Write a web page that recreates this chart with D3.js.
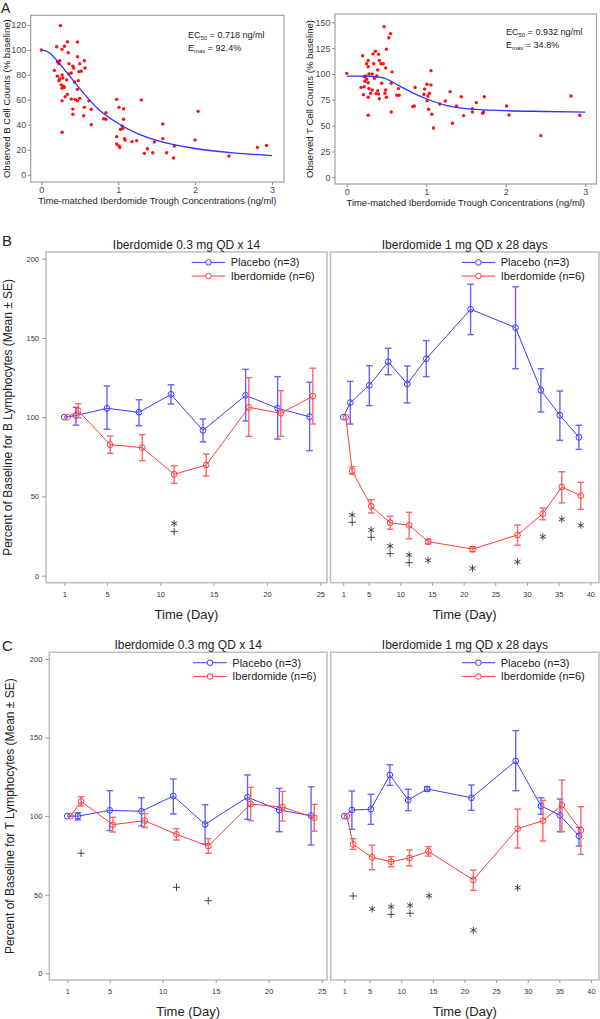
<!DOCTYPE html>
<html lang="en">
<head>
<meta charset="UTF-8" />
<title>Iberdomide B and T lymphocytes</title>
<script src="https://cdn.jsdelivr.net/npm/d3@7"></script>
<style>
  body { margin: 0; background: #fff; }
  text { font-family: "Liberation Sans", Arial, sans-serif; fill: #222; }
  .frameA { fill: none; stroke: #a0a0a0; stroke-width: 1.2px; }
  .axisA text { fill: #4d4d4d; font-size: 9px; }
  .axisA line { stroke: #888; }
  .frame { fill: none; stroke: #bdbdbd; stroke-width: 1.5px; }
  .axisT text { font-size: 7.5px; fill: #333; }
  .axisT line { stroke: #999; }
  .fit { fill: none; stroke: #3030ff; stroke-width: 1.3px; }
  .dot { fill: #ff1010; }
  .sym { fill: none; stroke: #333; stroke-width: 0.9px; }
</style>
</head>
<body>
<script>

// ---------- Panel A: scatter + fitted curve ----------
var bConc = [0, 0.25, 0.17, 0.2, 0.21, 0.34, 0.47, 0.30, 0.27, 0.35,
             0.24, 0.23, 0.47, 0.56, 0.36, 0.41, 0.42, 0.57, 0.50, 0.49,
             0.52, 0.21, 0.27, 0.28, 0.24, 0.23, 0.33, 0.39, 0.36, 0.43,
             0.48, 0.26, 0.29, 0.27, 0.30, 0.47, 0.31, 0.34, 0.39, 0.44,
             0.27, 0.47, 0.50, 0.62, 0.41, 0.41, 0.56, 0.65, 0.55, 0.65,
             0.27, 0.84, 0.81, 0.84, 0.98, 1.01, 1.07, 1.07, 1.30, 1.05,
             1.03, 1.06, 0.98, 1.08, 1.09, 0.98, 1.01, 1.02, 1.18, 1.24,
             1.34, 1.38, 1.45, 1.47, 1.58, 1.58, 1.63, 1.73, 1.72, 2.00,
             2.04, 2.44, 2.81, 2.93];
var bPct  = [100, 119.5, 83.6, 102.6, 90.6, 106.6, 106.4, 103, 100.5, 97.8,
             91.4, 89, 94.6, 91.4, 89, 87, 85.5, 85.5, 89, 82.6,
             83, 79, 80, 77.5, 76.7, 75.4, 76, 81.5, 80.7, 74.3,
             75.4, 72, 71, 69.2, 70, 68.4, 62.5, 64.4, 60.7, 60.4,
             59.3, 59.3, 61.2, 59.3, 52.6, 48.4, 54, 52.4, 47.3, 40,
             34, 49.7, 44.9, 44.4, 60.4, 54, 52.9, 44.4, 59.9, 39,
             36.3, 37.1, 30.5, 28.9, 27.8, 24.6, 23, 21.9, 26.5, 27.3,
             17.1, 20.8, 17.6, 26.2, 40.6, 28.9, 17.6, 23, 13.4, 27.8,
             50.8, 15, 21.9, 23.5];
var bFitConc = [0, 0.1, 0.25, 0.5, 0.75, 1, 1.25, 1.5, 2, 2.5, 3];
var bFitPct  = [100, 98, 88, 69, 52, 41, 33, 27.5, 21, 17.5, 15.3];

var tConc = [0, 0.47, 0.55, 0.53, 0.20, 0.27, 0.25, 0.36, 0.33, 0.40,
             0.50, 0.41, 0.46, 0.43, 0.49, 0.39, 0.34, 0.27, 0.28, 0.32,
             0.24, 0.22, 0.25, 0.23, 0.27, 0.35, 0.38, 0.57, 0.44, 0.56,
             0.18, 0.22, 0.28, 0.32, 0.39, 0.30, 0.37, 0.40, 0.48, 0.49,
             0.21, 0.27, 0.41, 0.50, 0.65, 0.63, 0.66, 0.56, 0.27, 0.86,
             0.83, 0.85, 0.98, 1.01, 1.06, 1.06, 0.97, 1.02, 1.04, 1.01,
             1.03, 1.07, 1.09, 1.17, 1.24, 1.30, 1.38, 1.33, 1.44, 1.47,
             1.58, 1.58, 1.63, 1.71, 1.72, 1.73, 2.01, 2.04, 2.44, 2.82,
             2.93];
var tPct  = [100.6, 145.8, 139, 135, 117.7, 113, 110, 122, 119.4, 119,
             124, 113, 110, 110, 105.8, 103.9, 110, 107, 100, 100,
             98, 97.4, 95, 93, 91.6, 95.8, 98, 102, 91, 91,
             87, 87.7, 86, 84.5, 83.9, 81.3, 81, 80.6, 81.3, 84.5,
             80, 77.4, 76, 77.4, 85.8, 79.4, 79.4, 63.2, 60, 87,
             68.4, 69, 85.5, 90, 103.2, 89.4, 80.3, 78.7, 81.3, 74.2,
             65.8, 61, 47.7, 71, 73.9, 82.9, 69, 52.3, 78, 59.7,
             66.5, 63.2, 72.3, 62, 63.2, 78, 69, 60.3, 40.3, 78.7,
             60];
var tFitConc = [0, 0.25, 0.45, 0.65, 0.85, 1.0, 1.25, 1.5, 2, 2.5, 3];
var tFitPct  = [98, 98, 96.5, 89, 81, 76, 69.5, 66.5, 64.5, 63.7, 63];

// ---------- Panel B: B lymphocytes ----------
var bLowPlaceboDay  = [1, 2.1, 5, 8, 11, 14, 18, 21, 24];
var bLowPlaceboMean = [100, 101, 105.6, 103.1, 114.4, 91.7, 113.8, 105.6, 100.3];
var bLowPlaceboHi   = [null, 106.2, 119.7, 111, 120.5, 98.9, 130.2, 125.6, 122];
var bLowPlaceboLo   = [null, 95, 92.4, 94.6, 108.3, 84.4, 97.6, 86.2, 78.9];
var bLowIberDay  = [1.3, 2.3, 5.3, 8.3, 11.3, 14.3, 18.3, 21.3, 24.3];
var bLowIberMean = [100, 104.1, 82.7, 80.8, 64, 69.8, 106.2, 102.5, 113.2];
var bLowIberHi   = [null, 108.5, 88.1, 89, 69.4, 76.8, 124.9, 116.7, 130.9];
var bLowIberLo   = [null, 99.7, 77.2, 72.6, 58.3, 62.9, 87.9, 87.9, 95.7];
var bLowStarDay = [11.3], bLowStarVal = [33];
var bLowPlusDay = [11.3], bLowPlusVal = [27.8];

var bHighPlaceboDay  = [1, 2.1, 5.1, 8.1, 11.1, 14.1, 21.1, 28.2, 32.2, 35.2, 38.2];
var bHighPlaceboMean = [100, 109.2, 120.1, 135, 121, 136.9, 168.1, 156.5, 117, 101.2, 87.3];
var bHighPlaceboHi   = [null, 122.6, 132.5, 143.5, 132.3, 148.3, 183.9, 182.3, 130.6, 116.5, 94.9];
var bHighPlaceboLo   = [null, 95.7, 107.3, 126.8, 109, 125.6, 152.1, 130.6, 103.3, 85.4, 79.7];
var bHighIberDay  = [1.4, 2.4, 5.4, 8.4, 11.4, 14.4, 21.4, 28.5, 32.5, 35.5, 38.5];
var bHighIberMean = [100, 66.1, 43.8, 33.4, 31.8, 21.5, 16.8, 25.7, 39.1, 56, 50.5];
var bHighIberHi   = [null, 68.8, 48, 37.5, 40, 23, 18.3, 32, 42.7, 65.6, 58.9];
var bHighIberLo   = [null, 64, 39.6, 29.3, 23.3, 20, 15.1, 19.2, 35.3, 45.9, 41.9];
var bHighStarDay = [2.4, 5.4, 8.4, 11.4, 14.4, 21.4, 28.5, 32.5, 35.5, 38.5];
var bHighStarVal = [38.3, 28.8, 18.7, 13.1, 9.7, 4.7, 8.8, 24.6, 35.6, 31.8];
var bHighPlusDay = [2.4, 5.4, 8.4, 11.4];
var bHighPlusVal = [33.7, 24.2, 13.9, 8.2];

// ---------- Panel C: T lymphocytes ----------
var tLowPlaceboDay  = [1, 2, 5, 8, 11, 14, 18, 21, 24];
var tLowPlaceboMean = [100, 100, 103.7, 103.1, 112.8, 94.8, 112, 103.9, 100.3];
var tLowPlaceboHi   = [null, 102.2, 116.2, 111.7, 123.6, 107.3, 126.2, 117.7, 118.7];
var tLowPlaceboLo   = [null, 97.6, 90.8, 93.7, 101.4, 82.3, 98, 90.1, 81.6];
var tLowIberDay  = [1.3, 2.3, 5.3, 8.3, 11.3, 14.3, 18.3, 21.3, 24.3];
var tLowIberMean = [100, 109.4, 94.6, 97.1, 88.4, 81, 107.7, 105.8, 99];
var tLowIberHi   = [null, 112.4, 99.3, 101.6, 92, 85.7, 118.4, 115.8, 107.5];
var tLowIberLo   = [null, 106.5, 89.9, 92.7, 84.8, 76.4, 97.1, 96.9, 90.4];
var tLowStarDay = [], tLowStarVal = [];
var tLowPlusDay = [2.3, 11.3, 14.3], tLowPlusVal = [76.4, 54.7, 46.2];

var tHighPlaceboDay  = [1, 2.2, 5.2, 8.2, 11.1, 14.1, 21.1, 28.1, 32.1, 35.1, 38.1];
var tHighPlaceboMean = [100, 103.9, 104.4, 126.2, 110.3, 117.3, 111.7, 135.1, 106.5, 100.5, 87.4];
var tHighPlaceboHi   = [null, 116, 113.9, 132.7, 117.1, 118.7, 119.8, 154.4, 111.7, 110.9, 92.9];
var tHighPlaceboLo   = [null, 91.6, 94.8, 119.6, 103.5, 115.8, 103.7, 116.2, 101.2, 90.1, 81];
var tHighIberDay  = [1.4, 2.4, 5.4, 8.4, 11.3, 14.3, 21.4, 28.4, 32.4, 35.4, 38.4];
var tHighIberMean = [100, 82.1, 73.8, 71, 73.4, 77.6, 59.4, 92, 97.1, 106.9, 91];
var tHighIberHi   = [null, 85.7, 81.6, 74.2, 78.5, 80.6, 65.7, 104.5, 110.1, 123, 106];
var tHighIberLo   = [null, 78.9, 65.9, 67.8, 68.3, 74.6, 52.8, 79.7, 84.2, 90.1, 75.7];
var tHighStarDay = [5.4, 8.4, 11.4, 14.4, 21.4, 28.4];
var tHighStarVal = [40.9, 42.4, 43.3, 49.4, 27.4, 54.5];
var tHighPlusDay = [2.4, 8.4, 11.4];
var tHighPlusVal = [49.2, 37.5, 38.2];

var lowTicks = [1, 5, 10, 15, 20, 25];
var highTicks = [1, 5, 10, 15, 20, 25, 30, 35, 40];
var pctTicks = [0, 50, 100, 150, 200];

var placeboColor = "#3b3bff", iberColor = "#ff3b3b";
var placeboBar = "#6464ff", iberBar = "#ff6666";

var svg = d3.select("body").append("svg")
  .attr("width", 600).attr("height", 1019);

function zip(xs, ys) {
  return xs.map(function(d, i) { return { x: d, y: ys[i] }; });
}

// ---------- draw panel A ----------
function drawScatter(p) {
  var x = d3.scaleLinear().domain([0, 3]).range([p.x0, p.x3]);
  var y = d3.scaleLinear().domain([0, p.ymax]).range([p.y0, p.ytop]);

  svg.append("rect").attr("class", "frameA")
    .attr("x", p.left).attr("y", p.top)
    .attr("width", p.right - p.left).attr("height", p.bottom - p.top);

  svg.append("g").attr("class", "axisA")
    .attr("transform", "translate(" + p.left + ",0)")
    .call(d3.axisLeft(y).tickValues(p.yticks).tickSize(3).tickPadding(1.5))
    .call(function(g) { g.select(".domain").remove(); });

  svg.append("g").attr("class", "axisA")
    .attr("transform", "translate(0," + p.bottom + ")")
    .call(d3.axisBottom(x).tickValues([0, 1, 2, 3]).tickFormat(d3.format("d")).tickSize(3).tickPadding(1.5))
    .call(function(g) { g.select(".domain").remove(); });

  svg.append("g").selectAll("circle")
    .data(zip(p.conc, p.pct))
    .enter().append("circle")
    .attr("class", "dot")
    .attr("cx", function(d) { return x(d.x); })
    .attr("cy", function(d) { return y(d.y); })
    .attr("r", 1.7);

  var line = d3.line()
    .x(function(d) { return x(d.x); })
    .y(function(d) { return y(d.y); })
    .curve(d3.curveMonotoneX);

  svg.append("path").datum(zip(p.fitConc, p.fitPct))
    .attr("class", "fit").attr("d", line);

  svg.append("text")
    .attr("x", (p.left + p.right) / 2).attr("y", p.bottom + 22)
    .attr("text-anchor", "middle").style("font-size", "9.4px")
    .text("Time-matched Iberdomide Trough Concentrations (ng/ml)");

  svg.append("text")
    .attr("transform", "translate(" + p.ytitleX + "," + ((p.top + p.bottom) / 2) + ") rotate(-90)")
    .attr("text-anchor", "middle").style("font-size", "9.6px")
    .text(p.ytitle);

  var ann = svg.append("text").attr("x", p.annX).attr("y", p.annY).style("font-size", "9px");
  ann.append("tspan").text("EC");
  ann.append("tspan").attr("dy", 2).style("font-size", "6px").text("50");
  ann.append("tspan").attr("dy", -2).text(" = " + p.ec50 + " ng/ml");
  var ann2 = svg.append("text").attr("x", p.annX).attr("y", p.annY + 12.5).style("font-size", "9px");
  ann2.append("tspan").text("E");
  ann2.append("tspan").attr("dy", 2).style("font-size", "6px").text("max");
  ann2.append("tspan").attr("dy", -2).text(" = " + p.emax + "%");
}

drawScatter({
  left: 30.7, right: 284, top: 15.3, bottom: 182,
  x0: 41.3, x3: 272, y0: 174.7, ytop: 25, ymax: 120,
  yticks: [0, 20, 40, 60, 80, 100, 120],
  conc: bConc, pct: bPct, fitConc: bFitConc, fitPct: bFitPct,
  ytitle: "Observed B Cell Counts (% baseline)", ytitleX: 10,
  annX: 188, annY: 38, ec50: "0.718", emax: "92.4"
});

drawScatter({
  left: 335, right: 596.5, top: 14, bottom: 184,
  x0: 346.7, x3: 585.3, y0: 177.3, ytop: 22.3, ymax: 150,
  yticks: [0, 25, 50, 75, 100, 125, 150],
  conc: tConc, pct: tPct, fitConc: tFitConc, fitPct: tFitPct,
  ytitle: "Observed T Cell Counts (% baseline)", ytitleX: 313,
  annX: 506, annY: 35, ec50: "0.932", emax: "34.8"
});

svg.append("text").attr("x", 1).attr("y", 13).style("font-size", "14px").text("A");

// ---------- draw panels B and C ----------
function drawTime(p) {
  var x = d3.scaleLinear().domain([1, p.dmax]).range([p.x1, p.xmax]);
  var y = d3.scaleLinear().domain([0, 200]).range([p.y0, p.y200]);

  svg.append("rect").attr("class", "frame")
    .attr("x", p.left).attr("y", p.top)
    .attr("width", p.right - p.left).attr("height", p.bottom - p.top);

  svg.append("g").attr("class", "axisT")
    .attr("transform", "translate(0," + p.bottom + ")")
    .call(d3.axisBottom(x).tickValues(p.ticks).tickSize(3).tickPadding(6))
    .call(function(g) { g.select(".domain").remove(); });

  if (p.yaxis) {
    svg.append("g").attr("class", "axisT")
      .attr("transform", "translate(" + p.left + ",0)")
      .call(d3.axisLeft(y).tickValues(pctTicks).tickSize(4).tickPadding(3))
      .call(function(g) { g.select(".domain").remove(); });
  }

  svg.append("text")
    .attr("x", (p.left + p.right) / 2).attr("y", p.top - 3)
    .attr("text-anchor", "middle").style("font-size", "12px")
    .text(p.title);

  svg.append("text")
    .attr("x", (p.left + p.right) / 2).attr("y", p.bottom + 36)
    .attr("text-anchor", "middle").style("font-size", "13px")
    .text("Time (Day)");

  var line = d3.line()
    .x(function(d) { return x(d.day); })
    .y(function(d) { return y(d.mean); });

  p.series.forEach(function(s) {
    var pts = s.day.map(function(d, i) {
      return { day: d, mean: s.mean[i], hi: s.hi[i], lo: s.lo[i] };
    });
    var g = svg.append("g");
    g.append("path").datum(pts)
      .attr("fill", "none").attr("stroke", s.color).attr("stroke-width", 1)
      .attr("d", line);

    var bars = pts.filter(function(d) { return d.hi !== null; });
    var eb = g.append("g").attr("stroke", s.bar).attr("stroke-width", 1.4);
    eb.selectAll(".v").data(bars).enter().append("line")
      .attr("x1", function(d) { return x(d.day); })
      .attr("x2", function(d) { return x(d.day); })
      .attr("y1", function(d) { return y(d.lo); })
      .attr("y2", function(d) { return y(d.hi); });
    ["hi", "lo"].forEach(function(k) {
      eb.selectAll(".c" + k).data(bars).enter().append("line")
        .attr("x1", function(d) { return x(d.day) - 3.3; })
        .attr("x2", function(d) { return x(d.day) + 3.3; })
        .attr("y1", function(d) { return y(d[k]); })
        .attr("y2", function(d) { return y(d[k]); });
    });

    g.selectAll("circle").data(pts).enter().append("circle")
      .attr("cx", function(d) { return x(d.day); })
      .attr("cy", function(d) { return y(d.mean); })
      .attr("r", 2.9)
      .attr("fill", "none").attr("stroke", s.color).attr("stroke-width", 1);
  });

  var star = d3.symbol().type(d3.symbolAsterisk).size(34);
  var plus = d3.symbol().type(d3.symbolPlus).size(20);
  svg.append("g").selectAll("path")
    .data(zip(p.starDay, p.starVal)).enter().append("path")
    .attr("class", "sym").attr("d", star)
    .attr("transform", function(d) { return "translate(" + x(d.x) + "," + y(d.y) + ")"; });
  svg.append("g").selectAll("path")
    .data(zip(p.plusDay, p.plusVal)).enter().append("path")
    .attr("class", "sym").attr("d", plus)
    .attr("transform", function(d) { return "translate(" + x(d.x) + "," + y(d.y) + ")"; });

  // legend
  var names = ["Placebo (n=3)", "Iberdomide (n=6)"];
  var cols = [placeboColor, iberColor];
  names.forEach(function(n, i) {
    var ly = p.top + 10.4 + i * 13.7;
    var lg = svg.append("g");
    lg.append("line").attr("x1", p.legX).attr("x2", p.legX + 33.5)
      .attr("y1", ly).attr("y2", ly)
      .attr("stroke", cols[i]).attr("stroke-width", 1);
    lg.append("circle").attr("cx", p.legX + 16.7).attr("cy", ly).attr("r", 2.8)
      .attr("fill", "#fff").attr("stroke", cols[i]).attr("stroke-width", 1);
    lg.append("text").attr("x", p.legX + 39).attr("y", ly + 4)
      .style("font-size", "11px").text(n);
  });
}

function series(day, mean, hi, lo, color, bar) {
  return { day: day, mean: mean, hi: hi, lo: lo, color: color, bar: bar };
}

// row B
drawTime({
  left: 46, right: 327, top: 252, bottom: 582.7,
  x1: 64.3, xmax: 320.3, dmax: 25, y0: 575.7, y200: 258.7,
  ticks: lowTicks, yaxis: true, legX: 191.7,
  title: "Iberdomide 0.3 mg QD x 14",
  series: [series(bLowPlaceboDay, bLowPlaceboMean, bLowPlaceboHi, bLowPlaceboLo, placeboColor, placeboBar),
           series(bLowIberDay, bLowIberMean, bLowIberHi, bLowIberLo, iberColor, iberBar)],
  starDay: bLowStarDay, starVal: bLowStarVal, plusDay: bLowPlusDay, plusVal: bLowPlusVal
});
drawTime({
  left: 330.5, right: 599, top: 252, bottom: 582.7,
  x1: 343.3, xmax: 590.3, dmax: 40, y0: 575.7, y200: 258.7,
  ticks: highTicks, yaxis: false, legX: 461.7,
  title: "Iberdomide 1 mg QD x 28 days",
  series: [series(bHighPlaceboDay, bHighPlaceboMean, bHighPlaceboHi, bHighPlaceboLo, placeboColor, placeboBar),
           series(bHighIberDay, bHighIberMean, bHighIberHi, bHighIberLo, iberColor, iberBar)],
  starDay: bHighStarDay, starVal: bHighStarVal, plusDay: bHighPlusDay, plusVal: bHighPlusVal
});

// row C
drawTime({
  left: 49.3, right: 327, top: 652.3, bottom: 980,
  x1: 67.3, xmax: 321.7, dmax: 25, y0: 973.3, y200: 659,
  ticks: lowTicks, yaxis: true, legX: 193.3,
  title: "Iberdomide 0.3 mg QD x 14",
  series: [series(tLowPlaceboDay, tLowPlaceboMean, tLowPlaceboHi, tLowPlaceboLo, placeboColor, placeboBar),
           series(tLowIberDay, tLowIberMean, tLowIberHi, tLowIberLo, iberColor, iberBar)],
  starDay: tLowStarDay, starVal: tLowStarVal, plusDay: tLowPlusDay, plusVal: tLowPlusVal
});
drawTime({
  left: 330.7, right: 599, top: 652.3, bottom: 980,
  x1: 344.3, xmax: 591, dmax: 40, y0: 973.3, y200: 659,
  ticks: highTicks, yaxis: false, legX: 461.7,
  title: "Iberdomide 1 mg QD x 28 days",
  series: [series(tHighPlaceboDay, tHighPlaceboMean, tHighPlaceboHi, tHighPlaceboLo, placeboColor, placeboBar),
           series(tHighIberDay, tHighIberMean, tHighIberHi, tHighIberLo, iberColor, iberBar)],
  starDay: tHighStarDay, starVal: tHighStarVal, plusDay: tHighPlusDay, plusVal: tHighPlusVal
});

svg.append("text")
  .attr("transform", "translate(12," + ((252 + 582.7) / 2) + ") rotate(-90)")
  .attr("text-anchor", "middle").style("font-size", "12px")
  .text("Percent of Baseline for B Lymphocytes (Mean \u00b1 SE)");
svg.append("text")
  .attr("transform", "translate(14," + ((652.3 + 980) / 2) + ") rotate(-90)")
  .attr("text-anchor", "middle").style("font-size", "12px")
  .text("Percent of Baseline for T Lymphocytes (Mean \u00b1 SE)");

svg.append("text").attr("x", 2).attr("y", 246).style("font-size", "15px").text("B");
svg.append("text").attr("x", 2).attr("y", 651).style("font-size", "15px").text("C");

</script>
</body>
</html>
